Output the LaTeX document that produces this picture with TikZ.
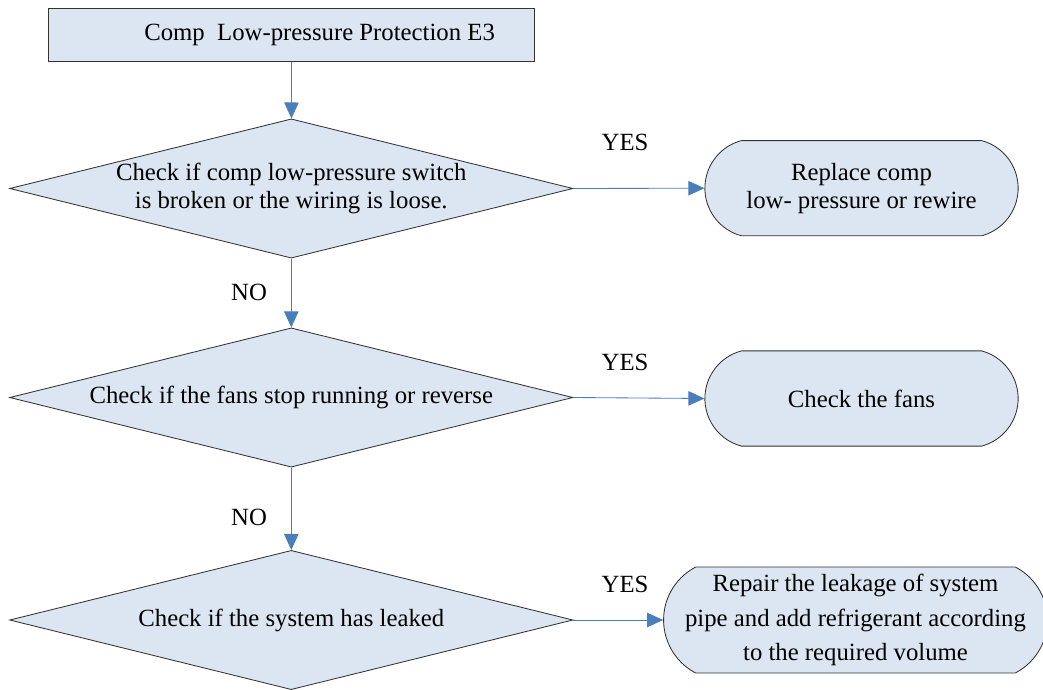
\documentclass[tikz,border=0pt]{standalone}
\usepackage{fontspec}
\setmainfont{Liberation Serif}
\usepackage{xcolor}
\usepackage{tikz}
\usetikzlibrary{shapes.geometric, shapes.misc, arrows.meta}
\usetikzlibrary{calc,positioning}

\definecolor{boxfill}{RGB}{220,230,242}
\definecolor{flowline}{RGB}{74,126,187}

\begin{document}
\begin{tikzpicture}[x=0.025cm, y=-0.025cm,
    every node/.style={font=\fontsize{17.6}{19.8}\selectfont},
    startbox/.style={draw=black!80, line width=0.6pt, fill=boxfill, inner sep=0pt,
        minimum width=12.15cm, minimum height=1.33cm},
    check/.style={diamond, draw=black!80, line width=0.6pt, fill=boxfill, align=center,
        inner xsep=-2cm, inner ysep=0pt, aspect=4.05,
        minimum width=14.08cm, minimum height=3.48cm},
    fix/.style={rounded rectangle, rounded rectangle arc length=150, draw=black!80,
        line width=0.6pt, fill=boxfill, align=center, inner sep=0pt},
    flow/.style={draw=flowline, line width=0.6pt, -{Triangle[length=0.4cm, width=0.36cm]}}
]
    \useasboundingbox (0,0) rectangle (1043,689);

    % Start
    \node[startbox] (start) at (291.6,35) {\hspace*{1.4cm}Comp\ \ Low-pressure Protection E3};

    % Checks
    \node[check] (d1) at (291.3,188.5) {Check if comp low-pressure switch\\is broken or the wiring is loose.};
    \node[check] (d2) at (291.3,397.5) {Check if the fans stop running or reverse};
    \node[check] (d3) at (291.3,620) {Check if the system has leaked};

    % Fixes
    \node[fix, minimum width=7.83cm, minimum height=2.38cm] (t1) at (861.5,188.2) {Replace comp\\low- pressure or rewire};
    \node[fix, minimum width=7.83cm, minimum height=2.38cm] (t2) at (861.5,398.5) {Check the fans};
    \node[fix, minimum width=9.1cm, minimum height=2.65cm, rounded rectangle arc length=125,
        font=\fontsize{17.6}{24.6}\selectfont] (t3) at (855.5,620)
        {Repair the leakage of system\\pipe and add refrigerant according\\to the required volume};

    % Labels
    \node (yes1) at (625,142) {YES};
    \node (yes2) at (625,362) {YES};
    \node (yes3) at (625,584) {YES};
    \node (no1) at (249,292) {NO};
    \node (no2) at (249,517) {NO};

    % Arrows
    \draw[flow] (start) -- (d1);
    \draw[flow] (d1) -- (d2);
    \draw[flow] (d2) -- (d3);
    \foreach \i in {1,2,3} {
        \draw[flow] (d\i.east) -- (t\i.west);
    }
\end{tikzpicture}
\end{document}
